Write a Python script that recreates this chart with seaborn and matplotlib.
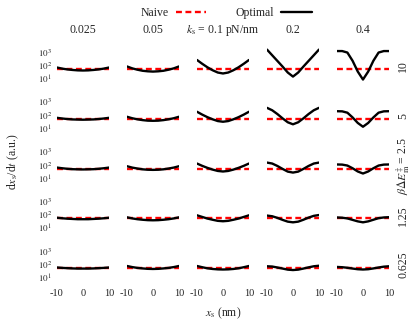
import numpy as np
import matplotlib
matplotlib.use("Agg")
import matplotlib.pyplot as plt
from matplotlib.lines import Line2D
import seaborn as sns

sns.set_style("white")
plt.rcParams["font.family"] = ["Liberation Serif", "DejaVu Serif"]
plt.rcParams["mathtext.fontset"] = "stix"

# x position of the stage (nm)
x_s = [-10, -8, -6, -4, -2, 0, 2, 4, 6, 8, 10]
k_labels = ["0.025", "0.05", r"$k_\mathrm{s}$ = 0.1 pN/nm", "0.2", "0.4"]
dE_labels = ["10", "5", r"$\beta\Delta E_\mathrm{m}^{\ddag}$ = 2.5", "1.25", "0.625"]

# log10(dx_s/dt) of the optimal protocol, one list per k_s column
opt_b10 = [
    [1.85, 1.77, 1.71, 1.67, 1.64, 1.63, 1.64, 1.67, 1.71, 1.77, 1.85],
    [1.93, 1.79, 1.69, 1.61, 1.57, 1.55, 1.57, 1.61, 1.69, 1.79, 1.93],
    [2.41, 2.13, 1.87, 1.65, 1.48, 1.41, 1.48, 1.65, 1.87, 2.13, 2.41],
    [3.18, 2.76, 2.34, 1.92, 1.48, 1.18, 1.48, 1.92, 2.34, 2.76, 3.18],
    [3.07, 3.07, 2.96, 2.35, 1.55, 0.96, 1.55, 2.35, 2.96, 3.07, 3.07],
]
opt_b5 = [
    [1.81, 1.76, 1.72, 1.69, 1.68, 1.67, 1.68, 1.69, 1.72, 1.76, 1.81],
    [1.89, 1.78, 1.70, 1.64, 1.60, 1.59, 1.60, 1.64, 1.70, 1.78, 1.89],
    [2.26, 2.05, 1.86, 1.70, 1.57, 1.52, 1.57, 1.70, 1.86, 2.05, 2.26],
    [2.55, 2.37, 2.09, 1.77, 1.48, 1.33, 1.48, 1.77, 2.09, 2.37, 2.55],
    [2.30, 2.29, 2.19, 1.84, 1.43, 1.15, 1.43, 1.84, 2.19, 2.29, 2.30],
]
opt_b2_5 = [
    [1.81, 1.76, 1.72, 1.69, 1.68, 1.67, 1.68, 1.69, 1.72, 1.76, 1.81],
    [1.91, 1.81, 1.74, 1.68, 1.65, 1.64, 1.65, 1.68, 1.74, 1.81, 1.91],
    [2.11, 1.94, 1.79, 1.66, 1.56, 1.52, 1.56, 1.66, 1.79, 1.94, 2.11],
    [2.18, 2.11, 1.93, 1.71, 1.51, 1.44, 1.51, 1.71, 1.93, 2.11, 2.18],
    [2.04, 2.03, 1.96, 1.76, 1.52, 1.37, 1.52, 1.76, 1.96, 2.03, 2.04],
]
opt_b1_25 = [
    [1.78, 1.74, 1.71, 1.69, 1.67, 1.67, 1.67, 1.69, 1.71, 1.74, 1.78],
    [1.81, 1.73, 1.67, 1.63, 1.60, 1.59, 1.60, 1.63, 1.67, 1.73, 1.81],
    [1.96, 1.84, 1.72, 1.63, 1.55, 1.52, 1.55, 1.63, 1.72, 1.84, 1.96],
    [1.94, 1.89, 1.77, 1.62, 1.49, 1.44, 1.49, 1.63, 1.79, 1.92, 1.98],
    [1.80, 1.78, 1.73, 1.62, 1.51, 1.44, 1.51, 1.63, 1.75, 1.80, 1.82],
]
opt_b0_625 = [
    [1.78, 1.75, 1.73, 1.71, 1.70, 1.70, 1.70, 1.71, 1.73, 1.75, 1.78],
    [1.89, 1.81, 1.75, 1.71, 1.68, 1.67, 1.68, 1.71, 1.75, 1.81, 1.89],
    [1.89, 1.80, 1.72, 1.67, 1.64, 1.63, 1.64, 1.67, 1.72, 1.80, 1.89],
    [1.87, 1.85, 1.78, 1.70, 1.62, 1.59, 1.62, 1.70, 1.79, 1.87, 1.91],
    [1.82, 1.80, 1.76, 1.70, 1.65, 1.63, 1.65, 1.71, 1.78, 1.84, 1.87],
]
opt_rows = [opt_b10, opt_b5, opt_b2_5, opt_b1_25, opt_b0_625]

# naive protocol: constant speed (same in every panel)
naive_speed = 55

fig, axes = plt.subplots(5, 5, figsize=(4.15, 3.21), dpi=100, sharex=True)
plt.subplots_adjust(left=0.1373, right=0.9373, top=0.8506, bottom=0.1171,
                    wspace=0.346, hspace=0.365)

for i, rows in enumerate(opt_rows):
    for j, logv in enumerate(rows):
        ax = axes[i][j]
        sns.lineplot(x=x_s, y=[naive_speed] * len(x_s), ax=ax, color="#ff0000",
                     linewidth=1.7, zorder=2)
        ax.lines[-1].set_dashes((2.5, 1.5))
        sns.lineplot(x=x_s, y=10 ** np.array(logv), ax=ax, color="black",
                     linewidth=1.7, zorder=3)
        ax.set_yscale("log")
        ax.set_ylim(10 ** 0.6, 10 ** 3.3)
        ax.set_xlim(-10, 10)
        ax.set_xlabel("")
        ax.set_ylabel("")
        sns.despine(ax=ax, left=True, bottom=True)
        ax.tick_params(which="both", direction="in", color="#c8c8c8",
                       labelcolor="#222222")
        ax.tick_params(which="major", length=3, width=0.6)
        ax.tick_params(which="minor", length=1.5, width=0.5)
        if j == 0:
            ax.set_yticks([10, 100, 1000])
            ax.set_yticklabels([r"$10^{1}$", r"$10^{2}$", r"$10^{3}$"], fontsize=6.5)
        else:
            ax.tick_params(which="both", left=False, labelleft=False)
        if i == 4:
            ax.set_xticks([-10, 0, 10])
            ax.set_xticklabels(["-10", "0", "10"], fontsize=7.5)
            ax.tick_params(axis="x", pad=4)
        else:
            ax.tick_params(axis="x", which="both", bottom=False, labelbottom=False)
        if i == 0:
            ax.set_title(k_labels[j], fontsize=8.5, pad=11)
        if j == 4:
            ax.text(1.27, 0.5, dE_labels[i], transform=ax.transAxes, rotation=90,
                    ha="center", va="center", fontsize=8.5)

handles = [Line2D([], [], color="#ff0000", lw=1.7, dashes=(2.5, 1.5)),
           Line2D([], [], color="black", lw=1.7)]
fig.legend(handles=handles, labels=["Naive", "Optimal"], ncol=2, markerfirst=False,
           frameon=False, loc="center", bbox_to_anchor=(0.545, 0.958), fontsize=8.5,
           handlelength=2.6, columnspacing=2.5, handletextpad=0.6)

fig.text(0.031, 0.495, r"d$x_\mathrm{s}$/d$t$ (a.u.)", rotation=90,
         ha="center", va="center", fontsize=8.5)
fig.text(0.537, 0.025, r"$x_\mathrm{s}$ (nm)", ha="center", va="center", fontsize=8.5)

fig.savefig("out.png", dpi=100)
